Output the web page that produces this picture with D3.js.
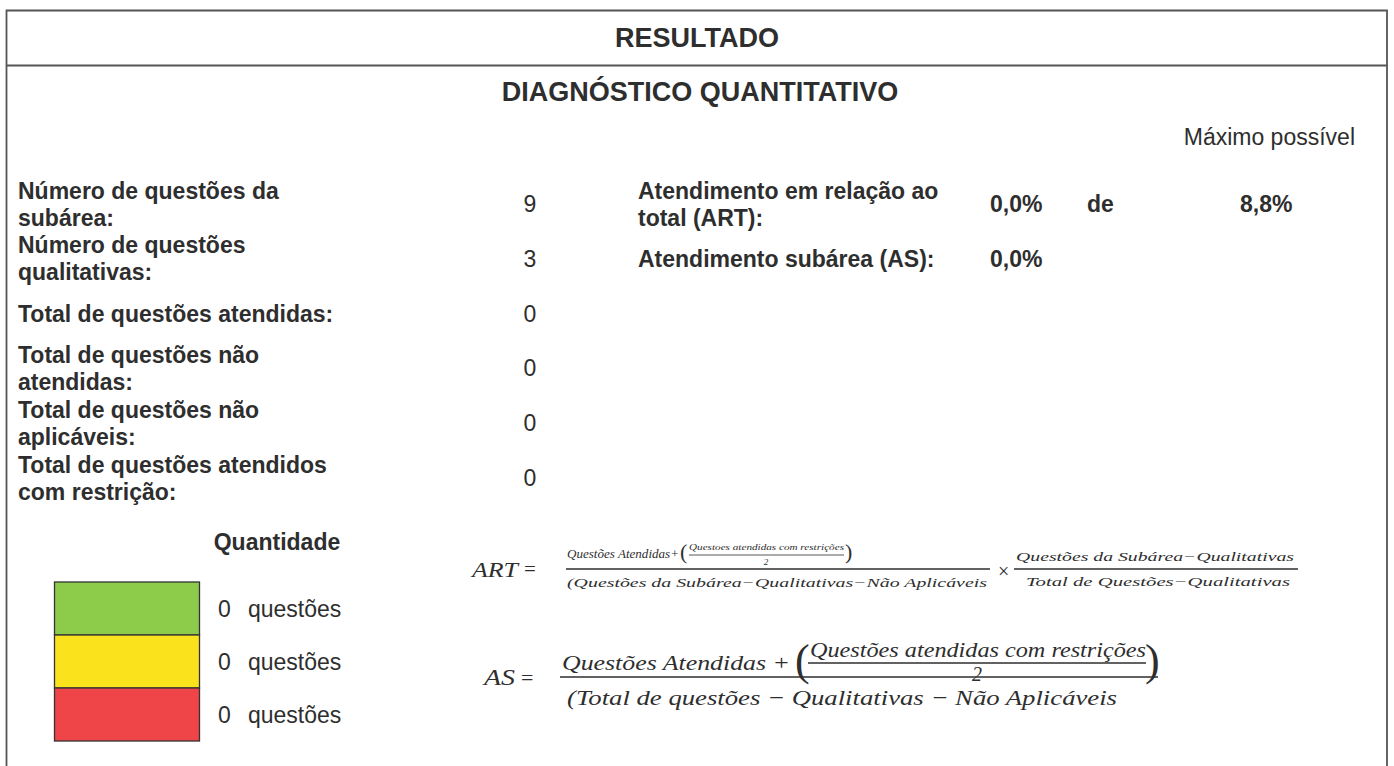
<!DOCTYPE html>
<html>
<head>
<meta charset="utf-8">
<script src="https://cdn.jsdelivr.net/npm/d3@7"></script>
<style>
  body { margin: 0; background: #fff; }
  svg { display: block; font-family: "Liberation Sans", Arial, sans-serif; }
</style>
</head>
<body>
<svg></svg>
<script>
const width = 1394;
const height = 766;

// form content
const rowLabels = [
    ["Número de questões da", "subárea:"],
    ["Número de questões", "qualitativas:"],
    ["Total de questões atendidas:"],
    ["Total de questões não", "atendidas:"],
    ["Total de questões não", "aplicáveis:"],
    ["Total de questões atendidos", "com restrição:"]
];
const rowValues = [9, 3, 0, 0, 0, 0];

const resultLabels = [
    ["Atendimento em relação ao", "total (ART):"],
    ["Atendimento subárea (AS):"]
];
const resultValues = [0.0, 0.0];
const maxPossible = 8.8;

const legendCategories = ["atendidas", "restricao", "nao"];
const legendCounts = [0, 0, 0];
const legendColors = ["#8dcb4b", "#fae21d", "#ef4548"];

const pt = d3.formatLocale({ decimal: ",", thousands: ".", grouping: [3], currency: ["", ""] });
const pct = v => pt.format(".1f")(v) + "%";

const ink = "#2e2e2e";
const lineH = 27;

const svg = d3.select("svg")
    .attr("width", width)
    .attr("height", height);

// frame
const frame = svg.append("g")
    .attr("fill", "none")
    .attr("stroke", "#555")
    .attr("stroke-width", 1.8);
frame.append("path").attr("d", `M6.5,${height} V10.5 H1387 V${height}`);
frame.append("line").attr("x1", 6.5).attr("x2", 1387).attr("y1", 65.5).attr("y2", 65.5);

svg.append("text")
    .attr("x", 697).attr("y", 38)
    .attr("text-anchor", "middle").attr("dominant-baseline", "central")
    .attr("font-size", 27).attr("font-weight", "bold").attr("fill", ink)
    .text("RESULTADO");

svg.append("text")
    .attr("x", 700).attr("y", 92)
    .attr("text-anchor", "middle").attr("dominant-baseline", "central")
    .attr("font-size", 27).attr("font-weight", "bold").attr("fill", ink)
    .text("DIAGNÓSTICO QUANTITATIVO");

// rows
const rowY = d3.scaleLinear().domain([0, rowLabels.length - 1]).range([204, 478]);

function multiLine(sel, lines, x, cy, opts) {
    const t = sel.append("text")
        .attr("x", x)
        .attr("font-size", opts.size)
        .attr("font-weight", opts.weight || "normal")
        .attr("fill", ink)
        .attr("dominant-baseline", "central");
    lines.forEach((l, i) => {
        t.append("tspan")
            .attr("x", x)
            .attr("y", cy + (i - (lines.length - 1) / 2) * lineH)
            .text(l);
    });
}

const rows = svg.append("g");
rowLabels.forEach((lines, i) => {
    multiLine(rows, lines, 18, rowY(i), { size: 23, weight: "bold" });
});
rows.selectAll(".val")
    .data(rowValues)
    .enter().append("text")
    .attr("class", "val")
    .attr("x", 530)
    .attr("y", (d, i) => rowY(i))
    .attr("text-anchor", "middle")
    .attr("dominant-baseline", "central")
    .attr("font-size", 23)
    .attr("fill", ink)
    .text(d => d);

// results block
svg.append("text")
    .attr("x", 1355).attr("y", 137)
    .attr("text-anchor", "end").attr("dominant-baseline", "central")
    .attr("font-size", 23).attr("fill", ink)
    .text("Máximo possível");

resultLabels.forEach((lines, i) => {
    multiLine(svg, lines, 638, rowY(i), { size: 23, weight: "bold" });
});
svg.selectAll(".res")
    .data(resultValues)
    .enter().append("text")
    .attr("class", "res")
    .attr("x", 990)
    .attr("y", (d, i) => rowY(i))
    .attr("dominant-baseline", "central")
    .attr("font-size", 23).attr("font-weight", "bold").attr("fill", ink)
    .text(d => pct(d));

svg.append("text")
    .attr("x", 1087).attr("y", rowY(0))
    .attr("dominant-baseline", "central")
    .attr("font-size", 23).attr("font-weight", "bold").attr("fill", ink)
    .text("de");
svg.append("text")
    .attr("x", 1240).attr("y", rowY(0))
    .attr("dominant-baseline", "central")
    .attr("font-size", 23).attr("font-weight", "bold").attr("fill", ink)
    .text(pct(maxPossible));

// legend
svg.append("text")
    .attr("x", 277).attr("y", 542)
    .attr("text-anchor", "middle").attr("dominant-baseline", "central")
    .attr("font-size", 23).attr("font-weight", "bold").attr("fill", ink)
    .text("Quantidade");

const legY = d3.scaleBand().domain(legendCategories).range([582, 741]);
const leg = svg.append("g");
leg.selectAll("rect")
    .data(legendCategories)
    .enter().append("rect")
    .attr("x", 54.5)
    .attr("y", d => legY(d))
    .attr("width", 145)
    .attr("height", legY.bandwidth())
    .attr("fill", (d, i) => legendColors[i])
    .attr("stroke", "#333")
    .attr("stroke-width", 1.3);
leg.selectAll(".cnt")
    .data(legendCategories)
    .enter().append("text")
    .attr("class", "cnt")
    .attr("x", 218)
    .attr("y", d => legY(d) + legY.bandwidth() / 2)
    .attr("dominant-baseline", "central")
    .attr("font-size", 23).attr("fill", ink)
    .text((d, i) => legendCounts[i]);
leg.selectAll(".q")
    .data(legendCategories)
    .enter().append("text")
    .attr("class", "q")
    .attr("x", 248)
    .attr("y", d => legY(d) + legY.bandwidth() / 2)
    .attr("dominant-baseline", "central")
    .attr("font-size", 23).attr("fill", ink)
    .text("questões");

// formulas
const math = svg.append("g")
    .attr("font-family", "'Liberation Serif', 'DejaVu Serif', serif")
    .attr("font-style", "italic")
    .attr("fill", ink);

function mtext(x, y, s, size, len, anchor) {
    const t = math.append("text")
        .attr("x", x).attr("y", y)
        .attr("font-size", size)
        .attr("dominant-baseline", "central")
        .attr("text-anchor", anchor || "start")
        .text(s);
    if (len) t.attr("textLength", len).attr("lengthAdjust", "spacingAndGlyphs");
    return t;
}
function mline(x1, x2, y, w) {
    math.append("line")
        .attr("x1", x1).attr("x2", x2).attr("y1", y).attr("y2", y)
        .attr("stroke", ink).attr("stroke-width", w || 1.2);
}

// ART
mtext(472, 569, "ART", 22, 46);
mtext(524, 569, "=", 21).attr("font-style", "normal");
mtext(567, 554, "Questões Atendidas+", 11.5, 112);
mtext(680, 551, "(", 22).attr("font-style", "normal");
mtext(689, 547, "Questoes atendidas com restrições", 9, 155);
mline(689, 844, 555, 0.8);
mtext(766, 562, "2", 9, null, "middle");
mtext(845, 551, ")", 22).attr("font-style", "normal");
mline(566, 990, 569, 1.3);
mtext(567, 583, "(Questões da Subárea−Qualitativas−Não Aplicáveis", 12.5, 420);
mtext(998, 571, "×", 20).attr("font-style", "normal");
mtext(1016, 557, "Questões da Subárea−Qualitativas", 12.5, 278);
mline(1014, 1298, 569, 1.3);
mtext(1026, 582, "Total de Questões−Qualitativas", 12.5, 264);

// AS
mtext(484, 677, "AS", 24, 31);
mtext(521, 677, "=", 22).attr("font-style", "normal");
mtext(562, 662, "Questões Atendidas +", 22, 228);
mtext(795, 660, "(", 44).attr("font-style", "normal");
mtext(810, 649, "Questões atendidas com restrições", 22, 336);
mline(808, 1146, 663, 1.3);
mtext(977, 674, "2", 20, null, "middle");
mtext(1145, 660, ")", 44).attr("font-style", "normal");
mline(560, 1158, 677, 1.6);
mtext(567, 697, "(Total de questões − Qualitativas − Não Aplicáveis", 22, 550);
</script>
</body>
</html>
